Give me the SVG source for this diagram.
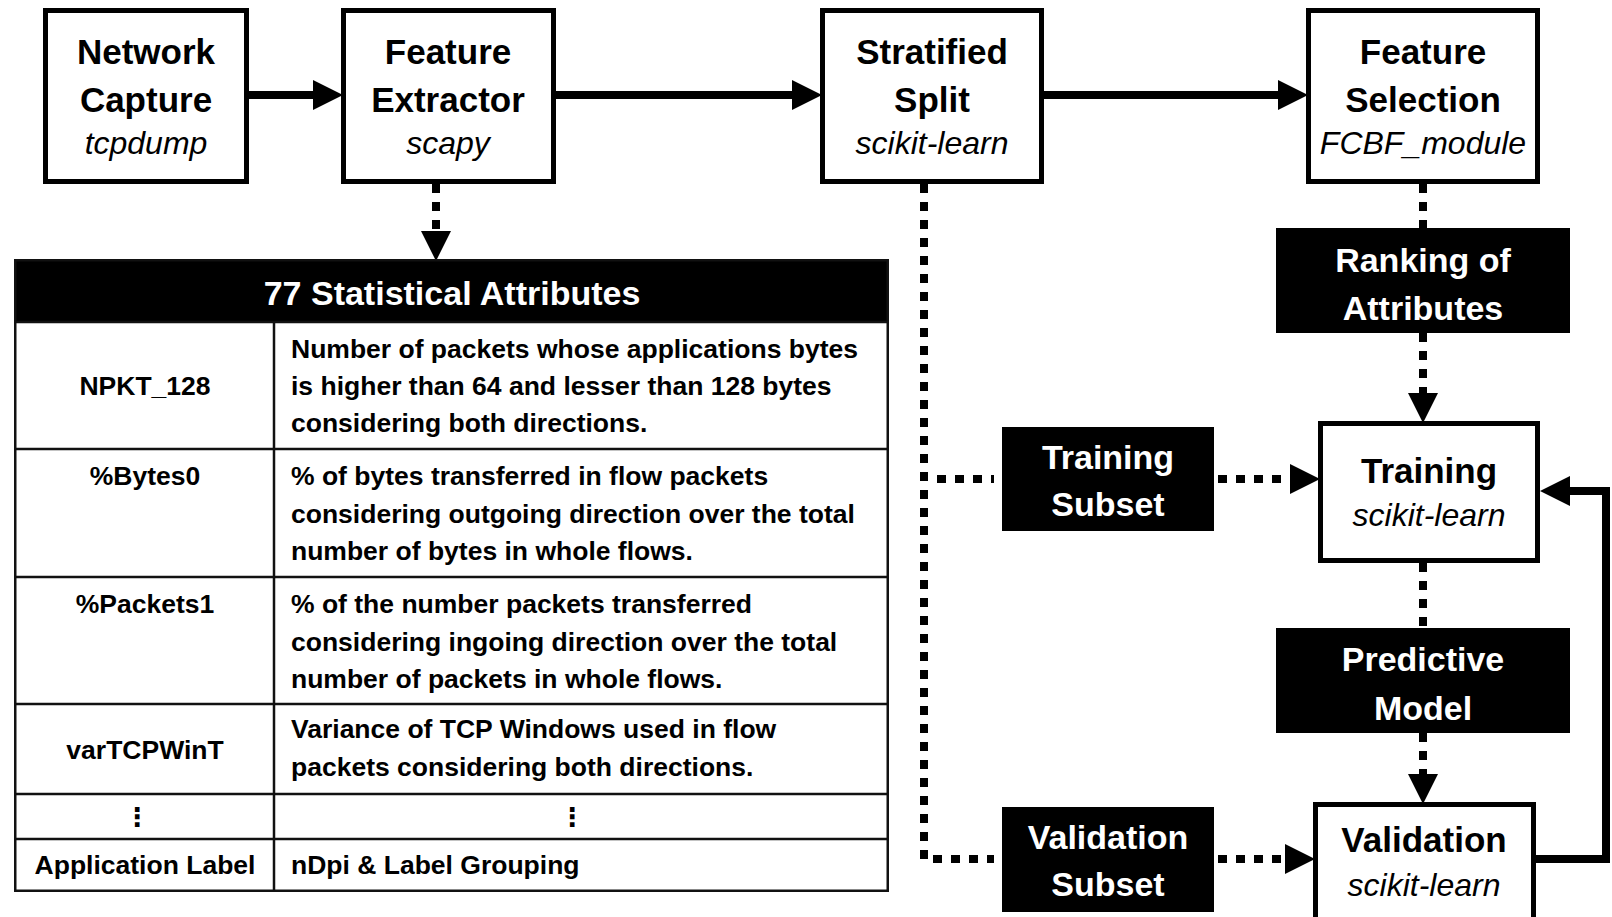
<svg xmlns="http://www.w3.org/2000/svg" width="1612" height="917" viewBox="0 0 1612 917">
<style>
.box{fill:#fff;stroke:#000;stroke-width:5}
.dark{fill:#000}
.t{font-family:"Liberation Sans",Arial,sans-serif;font-weight:bold;font-size:35px;fill:#000;text-anchor:middle}
.s{font-family:"Liberation Sans",Arial,sans-serif;font-style:italic;font-size:32px;fill:#000;text-anchor:middle}
.w{font-family:"Liberation Sans",Arial,sans-serif;font-weight:bold;font-size:34px;fill:#fff;text-anchor:middle}
.solid{stroke:#000;stroke-width:8;fill:none}
.dot{stroke:#000;stroke-width:8;fill:none;stroke-dasharray:9 9}
.c{font-family:"Liberation Sans",Arial,sans-serif;font-weight:bold;font-size:26.5px;fill:#000}
.cm{font-family:"Liberation Sans",Arial,sans-serif;font-weight:bold;font-size:26.5px;fill:#000;text-anchor:middle}
.el{font-family:"DejaVu Sans",sans-serif;font-weight:bold;font-size:26px;fill:#000;text-anchor:middle}
.grid{stroke:#111;stroke-width:2.5;fill:none}
</style>
<defs>
<marker id="ah" markerUnits="userSpaceOnUse" markerWidth="30" markerHeight="30" viewBox="0 0 28 28" refX="0" refY="14" orient="auto"><path d="M0,0 L28,14 L0,28 z" fill="#000"/></marker>
</defs>

<g id="connectors">
<path class="solid" d="M249,95 H313" marker-end="url(#ah)"/>
<path class="solid" d="M556,95 H792" marker-end="url(#ah)"/>
<path class="solid" d="M1044,95 H1278" marker-end="url(#ah)"/>
<path class="dot" d="M436,184 V231" marker-end="url(#ah)"/>
<path class="dot" d="M924,184 V859 H994"/>
<path class="dot" d="M937,479 H994"/>
<path class="dot" d="M1218,479 H1290" marker-end="url(#ah)"/>
<path class="dot" d="M1218,859 H1285" marker-end="url(#ah)"/>
<path class="dot" d="M1423,184 V228"/>
<path class="dot" d="M1423,333 V393" marker-end="url(#ah)"/>
<path class="dot" d="M1423,563 V628"/>
<path class="dot" d="M1423,733 V774" marker-end="url(#ah)"/>
<path class="solid" d="M1536,859 H1606 V491 H1570" marker-end="url(#ah)"/>
</g>

<g id="network-capture">
<rect class="box" x="45.5" y="10.5" width="201" height="171"/>
<text class="t" x="146" y="64">Network</text>
<text class="t" x="146" y="112">Capture</text>
<text class="s" x="146" y="154">tcpdump</text>
</g>

<g id="feature-extractor">
<rect class="box" x="343.5" y="10.5" width="210" height="171"/>
<text class="t" x="448" y="64">Feature</text>
<text class="t" x="448" y="112">Extractor</text>
<text class="s" x="448" y="154">scapy</text>
</g>

<g id="stratified-split">
<rect class="box" x="822.5" y="10.5" width="219" height="171"/>
<text class="t" x="932" y="64">Stratified</text>
<text class="t" x="932" y="112">Split</text>
<text class="s" x="932" y="154">scikit-learn</text>
</g>

<g id="feature-selection">
<rect class="box" x="1308.5" y="10.5" width="229" height="171"/>
<text class="t" x="1423" y="64">Feature</text>
<text class="t" x="1423" y="112">Selection</text>
<text class="s" x="1423" y="154">FCBF_module</text>
</g>

<g id="ranking">
<rect class="dark" x="1276" y="228" width="294" height="105"/>
<text class="w" x="1423" y="272">Ranking of</text>
<text class="w" x="1423" y="320">Attributes</text>
</g>

<g id="training-subset">
<rect class="dark" x="1002" y="427" width="212" height="104"/>
<text class="w" x="1108" y="469">Training</text>
<text class="w" x="1108" y="516">Subset</text>
</g>

<g id="training">
<rect class="box" x="1320.5" y="423.5" width="217" height="137"/>
<text class="t" x="1429" y="483">Training</text>
<text class="s" x="1429" y="526">scikit-learn</text>
</g>

<g id="predictive-model">
<rect class="dark" x="1276" y="628" width="294" height="105"/>
<text class="w" x="1423" y="671">Predictive</text>
<text class="w" x="1423" y="720">Model</text>
</g>

<g id="validation-subset">
<rect class="dark" x="1002" y="807" width="212" height="105"/>
<text class="w" x="1108" y="849">Validation</text>
<text class="w" x="1108" y="896">Subset</text>
</g>

<g id="validation">
<rect class="box" x="1315.5" y="804.5" width="218" height="130"/>
<text class="t" x="1424" y="852">Validation</text>
<text class="s" x="1424" y="896">scikit-learn</text>
</g>

<g id="attributes-table">
<rect class="dark" x="14" y="259" width="875" height="63"/>
<text class="w" x="452" y="305">77 Statistical Attributes</text>
<rect class="grid" x="15.25" y="260.25" width="872.5" height="630.5"/>
<path class="grid" d="M274,322 V891 M15,322 H888 M15,449 H888 M15,577 H888 M15,704 H888 M15,794 H888 M15,839 H888"/>
<text class="cm" x="145" y="395">NPKT_128</text>
<text class="c" x="291" y="358">Number of packets whose applications bytes</text>
<text class="c" x="291" y="395">is higher than 64 and lesser than 128 bytes</text>
<text class="c" x="291" y="432">considering both directions.</text>
<text class="cm" x="145" y="485">%Bytes0</text>
<text class="c" x="291" y="485">% of bytes transferred in flow packets</text>
<text class="c" x="291" y="523">considering outgoing direction over the total</text>
<text class="c" x="291" y="560">number of bytes in whole flows.</text>
<text class="cm" x="145" y="613">%Packets1</text>
<text class="c" x="291" y="613">% of the number packets transferred</text>
<text class="c" x="291" y="651">considering ingoing direction over the total</text>
<text class="c" x="291" y="688">number of packets in whole flows.</text>
<text class="cm" x="145" y="759">varTCPWinT</text>
<text class="c" x="291" y="738">Variance of TCP Windows used in flow</text>
<text class="c" x="291" y="776">packets considering both directions.</text>
<text class="el" x="137" y="826">⋮</text>
<text class="el" x="572" y="826">⋮</text>
<text class="cm" x="145" y="874">Application Label</text>
<text class="c" x="291" y="874">nDpi &amp; Label Grouping</text>
</g>
</svg>
